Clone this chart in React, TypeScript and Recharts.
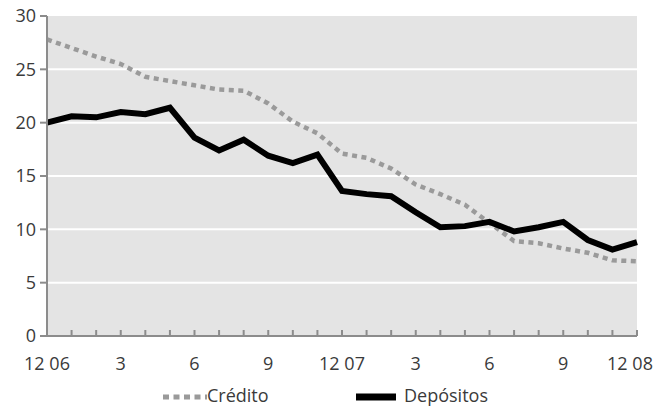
import React from 'react';
import {
  LineChart,
  Line,
  XAxis,
  YAxis,
  CartesianGrid,
  ReferenceArea,
  Legend,
} from 'recharts';

// Monthly labels, Dec 2006 → Dec 2008
const MONTHS = [
  '12 06', '1', '2', '3', '4', '5', '6', '7', '8', '9', '10', '11',
  '12 07', '1', '2', '3', '4', '5', '6', '7', '8', '9', '10', '11',
  '12 08',
];

const CREDITO = [
  27.8, 27.0, 26.2, 25.5, 24.3, 23.9, 23.5, 23.1, 23.0, 21.8, 20.1, 19.0,
  17.1, 16.7, 15.7, 14.2, 13.3, 12.3, 10.6, 8.9, 8.7, 8.2, 7.8, 7.1, 7.0,
];

const DEPOSITOS = [
  20.0, 20.6, 20.5, 21.0, 20.8, 21.4, 18.6, 17.4, 18.4, 16.9, 16.2, 17.0,
  13.6, 13.3, 13.1, 11.6, 10.2, 10.3, 10.7, 9.8, 10.2, 10.7, 9.0, 8.1, 8.8,
];

const Y_TICKS = [0, 5, 10, 15, 20, 25, 30];

const FONT = '"Open Sans", "Noto Sans", sans-serif';
const TEXT = '#3a3a3a';
const AXIS = '#8c8c8c';

const data = MONTHS.map((month, i) => ({
  month,
  credito: CREDITO[i],
  depositos: DEPOSITOS[i],
}));

// Quarter labels only; the last one is nudged left so it stays on the canvas
function MonthTick({ x, y, payload, index }: any) {
  if (index % 3 !== 0) return null;
  const last = index === MONTHS.length - 1;
  return (
    <text
      x={last ? x - 7 : x}
      y={y}
      dy="0.71em"
      textAnchor="middle"
      fill={TEXT}
      fontSize={18}
      fontFamily={FONT}
    >
      {payload.value}
    </text>
  );
}

function SeriesLegend() {
  return (
    <div style={{ position: 'relative', width: 658, height: 22, fontFamily: FONT, fontSize: 18, color: TEXT }}>
      <svg style={{ position: 'absolute', left: 163, top: 8 }} width={44} height={6}>
        <line x1={0} y1={3} x2={44} y2={3} stroke="#9a9a9a" strokeWidth={5} strokeDasharray="6 4.5" />
      </svg>
      <span style={{ position: 'absolute', left: 207, top: -3 }}>Crédito</span>
      <svg style={{ position: 'absolute', left: 356, top: 7 }} width={40} height={8}>
        <line x1={0} y1={4} x2={40} y2={4} stroke="#000" strokeWidth={7} />
      </svg>
      <span style={{ position: 'absolute', left: 404, top: -3 }}>Depósitos</span>
    </div>
  );
}

export default function App() {
  return (
    <div style={{ position: 'absolute', left: 0, top: 0, background: '#fff' }}>
      <LineChart
        width={658}
        height={408}
        data={data}
        margin={{ top: 16, right: 21, bottom: 0, left: 0 }}
      >
        <CartesianGrid
          vertical={false}
          stroke="#ffffff"
          strokeWidth={2}
          fill="#e4e4e4"
          horizontalValues={[5, 10, 15, 20, 25]}
        />
        <ReferenceArea fill="none" stroke="#a8a8a8" strokeWidth={1.5} ifOverflow="visible" />
        <XAxis
          dataKey="month"
          interval={0}
          height={50}
          stroke={AXIS}
          strokeWidth={2}
          tickSize={-6}
          tickMargin={27}
          tick={<MonthTick />}
        />
        <YAxis
          domain={[0, 30]}
          ticks={Y_TICKS}
          width={47}
          stroke={AXIS}
          strokeWidth={2}
          tickSize={7}
          tickMargin={4}
          tick={{ fill: TEXT, fontSize: 18, fontFamily: FONT }}
        />
        <Line
          dataKey="credito"
          name="Crédito"
          stroke="#9a9a9a"
          strokeWidth={4.5}
          strokeDasharray="5 4.5"
          dot={false}
          isAnimationActive={false}
        />
        <Line
          dataKey="depositos"
          name="Depósitos"
          stroke="#000000"
          strokeWidth={6}
          strokeLinejoin="miter"
          dot={false}
          isAnimationActive={false}
        />
        <Legend verticalAlign="bottom" content={<SeriesLegend />} />
      </LineChart>
    </div>
  );
}
